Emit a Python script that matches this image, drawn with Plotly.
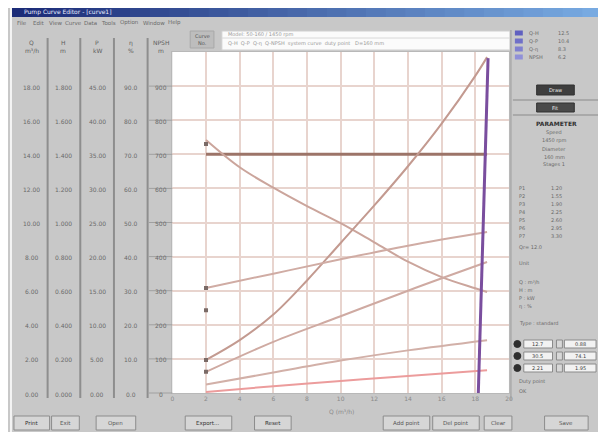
import plotly.graph_objects as go

# ---------------- data (plot units 0-10) ----------------
q_full = [1.0, 2.0, 3.0, 4.0, 5.0, 6.0, 7.0, 8.0, 9.0, 9.35]
head_flat = [7.0, 7.0, 7.0, 7.0, 7.0, 7.0, 7.0, 7.0, 7.0, 7.0]
head_fall = [7.42, 6.62, 6.02, 5.48, 4.98, 4.42, 3.85, 3.40, 3.07, 2.96]
system_rise = [0.97, 1.55, 2.30, 3.30, 4.40, 5.50, 6.65, 7.90, 9.30, 9.85]

q_part = [1.0, 3.0, 5.0, 7.0, 9.35]
curve_a = [3.08, 3.50, 3.92, 4.32, 4.72]
curve_b = [0.62, 1.50, 2.25, 3.00, 3.84]
curve_c = [0.25, 0.60, 0.95, 1.25, 1.55]
curve_d = [0.03, 0.20, 0.35, 0.50, 0.67]

limit_q = [9.09, 9.38]
limit_y = [0.0, 9.82]

marker_q = [1.0, 1.0, 1.0, 1.0, 1.0]
marker_y = [7.30, 3.08, 2.43, 0.97, 0.62]

x_ticks = [0, 1, 2, 3, 4, 5, 6, 7, 8, 9, 10]
x_tick_text = ["0", "2", "4", "6", "8", "10", "12", "14", "16", "18", "20"]

table_headers = [["Q", "m³/h"], ["H", "m"], ["P", "kW"], ["η", "%"], ["NPSH", "m"]]
table_cols = [
    ["18.00", "16.00", "14.00", "12.00", "10.00", "8.00", "6.00", "4.00", "2.00", "0.00"],
    ["1.800", "1.600", "1.400", "1.200", "1.000", "0.800", "0.600", "0.400", "0.200", "0.000"],
    ["45.00", "40.00", "35.00", "30.00", "25.00", "20.00", "15.00", "10.00", "5.00", "0.00"],
    ["90.0", "80.0", "70.0", "60.0", "50.0", "40.0", "30.0", "20.0", "10.0", "0.0"],
    ["900", "800", "700", "600", "500", "400", "300", "200", "100", "0"],
]
row_values = [9, 8, 7, 6, 5, 4, 3, 2, 1, 0]

menu_items = ["File", "Edit", "View", "Curve", "Data", "Tools", "Option", "Window", "Help"]
bottom_buttons = ["Print", "Exit", "Open", "Export...", "Reset", "Add point", "Del point", "Clear", "Save"]

# ---------------- layout helpers (page pixel coords -> paper) ----------------
# the page body has an 8 px margin, so the figure starts at page pixel (8, 8)
OFF = 8
W, H = 606 - OFF, 432 - OFF
PX0, PX1, PY0, PY1 = 172, 512, 52, 393


def px(x):
    return (x - OFF) / W


def py(y):
    return 1 - (y - OFF) / H


shapes = []
annots = []


def rect(x0, y0, x1, y1, fill, line=None, lw=1):
    shapes.append(dict(type="rect", xref="paper", yref="paper",
                       x0=px(x0), x1=px(x1), y0=py(y1), y1=py(y0),
                       fillcolor=fill, line=dict(color=line or fill, width=lw if line else 0),
                       layer="below"))


def hline(x0, x1, y, color, lw=1):
    shapes.append(dict(type="line", xref="paper", yref="paper",
                       x0=px(x0), x1=px(x1), y0=py(y), y1=py(y),
                       line=dict(color=color, width=lw), layer="above"))


def vline(x, y0, y1, color, lw=1):
    shapes.append(dict(type="line", xref="paper", yref="paper",
                       x0=px(x), x1=px(x), y0=py(y0), y1=py(y1),
                       line=dict(color=color, width=lw), layer="above"))


def text(x, y, s, size=7, color="#555555", anchor="center", bold=False):
    annots.append(dict(xref="paper", yref="paper", x=px(x), y=py(y), text=("<b>%s</b>" % s) if bold else s,
                       showarrow=False, xanchor=anchor, yanchor="middle",
                       font=dict(size=size, color=color, family="DejaVu Sans")))


# outer white border
rect(8, 8, 10, 432, "#f4f4f4")

# title bar gradient
steps = 30
c0 = (28, 44, 120)
c1 = (120, 170, 225)
for i in range(steps):
    t = i / (steps - 1)
    col = "rgb(%d,%d,%d)" % tuple(int(c0[k] + (c1[k] - c0[k]) * t) for k in range(3))
    xa = 10 + (606 - 10) * i / steps
    xb = 10 + (606 - 10) * (i + 1) / steps + 1
    rect(xa, 8, xb, 17, col)
text(20, 12.5, "Pump Curve Editor - [curve1]", 6, "#e8ecff", "left")

# menu
menu_x = [13, 29, 45, 62, 81, 98, 117, 140, 166]
for mx, m in zip(menu_x, menu_items):
    text(mx, 23, m, 5.5, "#6a6a6a", "left")

# plot header strip
rect(190, 31, 214, 48, "#bdbdbd", "#a8a8a8")
text(202, 36, "Curve", 5, "#555555")
text(202, 43, "No.", 5, "#555555")
rect(222, 31, 513, 50, "#fbfbfb", "#cfcfcf")
hline(222, 513, 38, "#d8d8d8")
text(226, 34.5, "Model: 50-160 / 1450 rpm", 5, "#9a9a9a", "left")
text(226, 44, "Q-H  Q-P  Q-η  Q-NPSH  system curve  duty point   D=160 mm", 5, "#9a9a9a", "left")

# left table
for xs in [46, 79, 113, 147]:
    vline(xs, 38, 398, "#8e8e8e", 2)
col_centers = [30, 62, 96, 130, 161]
for cx, hd in zip(col_centers, table_headers):
    text(cx, 43, hd[0], 6, "#606060")
    text(cx, 51, hd[1], 6, "#606060")
for cx, vals in zip(col_centers, table_cols):
    for rv, v in zip(row_values, vals):
        yy = PY1 - rv * (PY1 - PY0) / 10
        text(cx, yy + 1, v, 6, "#6a6a6a")
for rv in row_values:
    yy = PY1 - rv * (PY1 - PY0) / 10
    hline(148, 172, yy, "#a0a0a0", 1)

# right panel
vline(514, 30, 400, "#9a9a9a", 1)
legend_rows = [("Q-H", "#6060c0"), ("Q-P", "#7070c8"), ("Q-η", "#8080d0"), ("NPSH", "#9090d8")]
for i, (lab, c) in enumerate(legend_rows):
    yy = 33 + i * 8
    rect(518, yy - 2.5, 526, yy + 2.5, c)
    text(530, yy, lab, 5, "#6a6a6a", "left")
    text(560, yy, "%.1f" % (12.5 - i * 2.1), 5, "#6a6a6a", "left")
rect(540, 85, 578, 95, "#3e3e3e", "#303030")
text(559, 90, "Draw", 5, "#f0f0f0")
hline(516, 606, 100, "#8a8a8a", 1)
rect(540, 103, 578, 112, "#4a4a4a", "#303030")
text(559, 107.5, "Fit", 5, "#f0f0f0")
hline(516, 606, 115, "#8a8a8a", 1)
text(560, 123, "PARAMETER", 6, "#303030", bold=True)
for i, s in enumerate(["Speed", "1450 rpm", "Diameter", "160 mm", "Stages 1"]):
    text(558, 133 + i * 8, s, 5, "#6a6a6a")
for i in range(7):
    yy = 188 + i * 8
    text(520, yy, "P%d" % (i + 1), 5, "#6a6a6a", "left")
    text(552, yy, "%.2f" % (1.2 + 0.35 * i), 5, "#6a6a6a", "left")
text(520, 247, "Qr= 12.0", 5, "#6a6a6a", "left")
text(520, 263, "Unit", 5, "#6a6a6a", "left")
for i, s in enumerate(["Q : m³/h", "H : m", "P : kW", "η : %"]):
    text(520, 282 + i * 8, s, 5, "#6a6a6a", "left")
text(520, 323, "Type : standard", 5, "#6a6a6a", "left")
for i in range(3):
    yy = 344 + i * 12
    shapes.append(dict(type="circle", xref="paper", yref="paper",
                       x0=px(517), x1=px(524), y0=py(yy + 3.5), y1=py(yy - 3.5),
                       fillcolor="#2e2e2e", line=dict(color="#2e2e2e", width=1)))
    rect(527, yy - 4, 556, yy + 4, "#f2f2f2", "#8a8a8a")
    text(541, yy, ["12.7", "30.5", "2.21"][i], 5, "#404040")
    rect(560, yy - 4, 566, yy + 4, "#d8d8d8", "#8a8a8a")
    rect(568, yy - 4, 600, yy + 4, "#f2f2f2", "#8a8a8a")
    text(584, yy, ["0.88", "74.1", "1.95"][i], 5, "#404040")
text(520, 381, "Duty point", 5, "#6a6a6a", "left")
text(520, 391, "OK", 5, "#6a6a6a", "left")

# axis title under plot
text(343, 411, "Q (m³/h)", 6, "#8a8a8a")

# bottom buttons
btn_pos = [(12, 48), (50, 78), (95, 135), (185, 232), (255, 292), (385, 432), (435, 482), (487, 515), (548, 592)]
for (bx0, bx1), lab in zip(btn_pos, bottom_buttons):
    rect(bx0, 416, bx1, 430, "#d6d6d6", "#8c8c8c")
    text((bx0 + bx1) / 2, 423, lab, 5.5, "#303030" if lab in ("Print", "Export...", "Reset") else "#555555")

# ---------------- traces ----------------
fig = go.Figure()
fig.add_trace(go.Scatter(x=q_full, y=head_flat, mode="lines", line=dict(color="#9c7468", width=3), hoverinfo="skip"))
fig.add_trace(go.Scatter(x=q_full, y=head_fall, mode="lines", line=dict(color="#cba59c", width=2, shape="spline"), hoverinfo="skip"))
fig.add_trace(go.Scatter(x=q_full, y=system_rise, mode="lines", line=dict(color="#c39a90", width=2, shape="spline"), hoverinfo="skip"))
fig.add_trace(go.Scatter(x=q_part, y=curve_a, mode="lines", line=dict(color="#d0aca4", width=2, shape="spline"), hoverinfo="skip"))
fig.add_trace(go.Scatter(x=q_part, y=curve_b, mode="lines", line=dict(color="#cfaaa2", width=2, shape="spline"), hoverinfo="skip"))
fig.add_trace(go.Scatter(x=q_part, y=curve_c, mode="lines", line=dict(color="#d2b0a8", width=2, shape="spline"), hoverinfo="skip"))
fig.add_trace(go.Scatter(x=q_part, y=curve_d, mode="lines", line=dict(color="#ec9c9c", width=2, shape="spline"), hoverinfo="skip"))
fig.add_trace(go.Scatter(x=limit_q, y=limit_y, mode="lines", line=dict(color="#7a4e9e", width=3), hoverinfo="skip"))
fig.add_trace(go.Scatter(x=marker_q, y=marker_y, mode="markers",
                         marker=dict(symbol="square", size=4, color="#7a6a66"), hoverinfo="skip"))

fig.update_layout(
    width=W, height=H, autosize=False,
    margin=dict(l=0, r=0, t=0, b=0, pad=0),
    paper_bgcolor="#c8c8c8", plot_bgcolor="#ffffff",
    showlegend=False, shapes=shapes, annotations=annots,
    xaxis=dict(domain=[px(PX0), px(PX1)], range=[0, 10], tickvals=x_ticks, ticktext=x_tick_text,
               showgrid=True, gridcolor="#e8d4ce", gridwidth=2, zeroline=False, ticks="",
               tickfont=dict(size=6, color="#8a8a8a", family="DejaVu Sans"), fixedrange=True,
               showline=True, linecolor="#b8b8b8", linewidth=1, mirror=True),
    yaxis=dict(domain=[py(PY1), py(PY0)], range=[0, 10], dtick=1, showticklabels=False,
               showgrid=True, gridcolor="#e8d4ce", gridwidth=2, zeroline=False, ticks="", fixedrange=True,
               showline=True, linecolor="#b8b8b8", linewidth=1, mirror=True),
)

fig.write_html("out.html")
